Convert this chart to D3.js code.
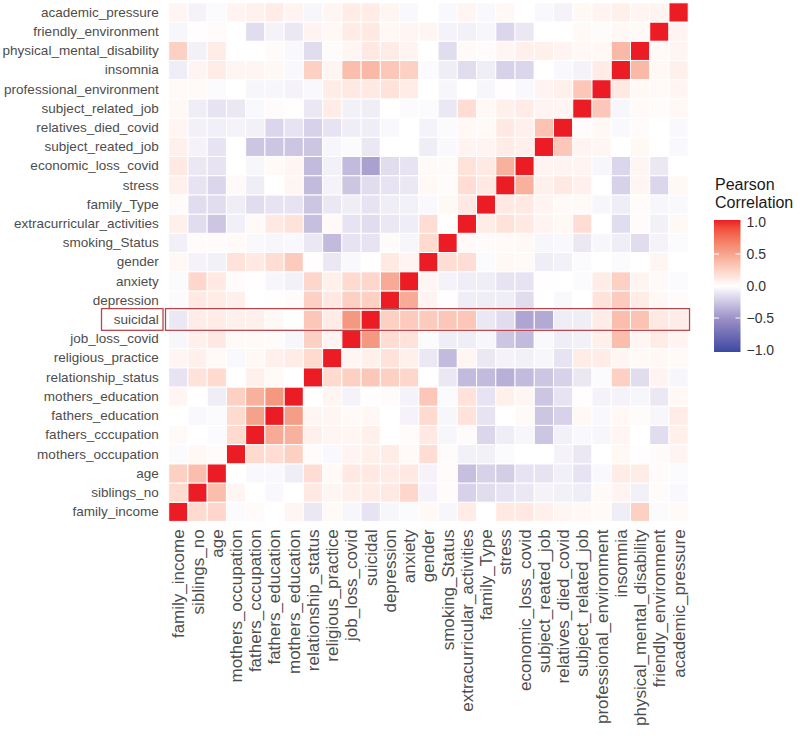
<!DOCTYPE html>
<html><head><meta charset="utf-8">
<script src="https://cdn.jsdelivr.net/npm/d3@7"></script>
<style>body{margin:0;background:#fff} svg{display:block}</style>
</head><body>
<svg id="chart" width="800" height="740"></svg>
<script>
const variables = ["family_income","siblings_no","age","mothers_occupation","fathers_cccupation","fathers_education","mothers_education","relationship_status","religious_practice","job_loss_covid","suicidal","depression","anxiety","gender","smoking_Status","extracurricular_activities","family_Type","stress","economic_loss_covid","subject_reated_job","relatives_died_covid","subject_related_job","professional_environment","insomnia","physical_mental_disability","friendly_environment","academic_pressure"];

// one row per variable, in the same order as `variables`
const corrRows = [
[1,0.2,0.22,-0.02,0.02,0,0.05,-0.1,0.03,-0.04,-0.12,-0.04,-0.02,0.04,-0.04,0.1,0,0.12,0.12,0.08,0.05,0.04,0.03,-0.08,0.25,-0.02,0.03],
[0.2,1,0.35,0.05,0,-0.03,0,0.12,0.05,0.08,0.1,0.12,0.22,-0.05,0.02,-0.2,-0.15,-0.12,-0.1,-0.05,-0.06,-0.08,0.03,0.06,-0.06,0.02,-0.03],
[0.25,0.35,1,0,-0.03,-0.03,-0.08,0.18,0.03,0.12,0.12,0.1,0.12,-0.05,0.02,-0.28,-0.2,-0.22,-0.12,-0.12,-0.07,-0.12,-0.03,0.1,0.1,0.02,-0.02],
[-0.02,0.04,0.02,1,0.2,0.18,0.25,0.02,-0.03,0.06,0.08,0.1,0.03,0.18,0.02,-0.06,-0.06,-0.02,0,0,-0.05,-0.1,0,0.04,0.01,0.02,0.06],
[0.03,0,-0.02,0.2,1,0.45,0.42,0.08,0.05,0.05,0.08,0,0.02,0.12,-0.04,0.02,-0.18,-0.08,-0.04,-0.25,-0.06,-0.03,-0.04,0.05,0,-0.15,0.08],
[0,-0.03,-0.02,0.2,0.5,1,0.52,0.05,0.05,0.03,0.04,0,-0.05,0.2,-0.04,0.15,-0.12,0,0.03,-0.25,-0.2,0.04,-0.03,0.04,0.02,-0.04,0.1],
[0.05,0,-0.08,0.25,0.42,0.55,1,0,0.05,-0.05,0.01,0.02,-0.05,0.3,-0.02,0.15,-0.12,0.08,0.05,-0.25,-0.12,0.01,-0.05,-0.05,-0.04,-0.1,0.04],
[-0.12,0.15,0.2,0,0.08,0.03,0,1,0.2,0.25,0.3,0.25,0.22,0,-0.1,-0.3,-0.3,-0.35,-0.3,-0.25,-0.2,-0.1,-0.02,0.25,-0.15,0.06,-0.04],
[0.05,0.08,0.03,-0.03,0.04,0.08,0.1,0.2,1,0.05,0.08,0.15,0.08,-0.1,-0.3,0.05,-0.1,-0.05,-0.06,-0.04,-0.12,0.1,0.1,0.05,0.03,0.04,0.03],
[-0.04,0.08,0.12,0.03,0.03,0.02,-0.04,0.25,0.06,1,0.55,0.18,0.15,-0.02,-0.08,-0.08,-0.04,-0.25,-0.3,-0.03,-0.08,-0.06,0.08,0.35,0.05,0.1,0.06],
[-0.1,0.1,0.1,0.08,0.08,0.04,0,0.3,0.1,0.55,1,0.25,0.28,0.28,0.3,0.3,-0.1,-0.15,-0.4,-0.38,-0.08,-0.08,0.1,0.35,0.32,0.12,0.1],
[-0.02,0.12,0.1,0.08,0,0.01,0.02,0.25,0.12,0.25,0.25,1,0.45,0.06,0.01,-0.08,-0.08,-0.08,-0.15,0,-0.03,0,0.15,0.28,0.1,0.04,0.02],
[-0.02,0.22,0.12,0.02,0.01,-0.04,-0.06,0.22,0.08,0.2,0.22,0.45,1,0.05,-0.05,-0.08,-0.08,-0.12,-0.12,0.01,0,-0.02,0.1,0.25,0.06,0.03,-0.02],
[0.04,-0.05,-0.06,0.15,0.12,0.18,0.28,0.01,-0.1,-0.03,0,0.12,0.06,1,0.18,0.18,-0.02,0.04,0.03,-0.08,-0.06,-0.02,0,-0.02,0,0.05,0],
[-0.07,0.02,0.02,0.03,-0.03,-0.04,-0.03,-0.1,-0.3,-0.12,-0.12,0.02,-0.04,0.2,1,0.03,0.02,0.03,0.04,-0.04,-0.03,-0.1,-0.04,-0.08,-0.15,-0.05,-0.02],
[0.08,-0.15,-0.25,-0.07,0.03,0.12,0.15,-0.28,0.03,-0.12,-0.15,-0.1,-0.08,0.18,0.01,1,0.1,0.15,0.12,0.06,0.04,0.18,0,-0.15,0.02,-0.06,0.04],
[0.02,-0.15,-0.15,-0.08,-0.15,-0.12,-0.12,-0.25,-0.1,-0.08,-0.12,-0.08,-0.06,-0.03,0.04,0.12,1,0.12,0.12,0.06,0.03,0.03,-0.04,-0.08,0.02,-0.04,-0.03],
[0.08,-0.12,-0.18,0.03,-0.08,0,0.05,-0.3,-0.05,-0.25,-0.15,-0.12,-0.1,0.04,0.02,0.18,0.12,1,0.42,0.08,0.12,0.08,0,-0.2,0.05,-0.18,0.04],
[0.12,-0.1,-0.12,0,-0.04,0.03,0.05,-0.3,-0.06,-0.3,-0.42,-0.15,-0.12,0.03,0.02,0.15,0.12,0.42,1,0.06,0.06,0.06,-0.04,-0.18,0.05,-0.1,0],
[0.08,-0.05,-0.12,0,-0.25,-0.25,-0.25,-0.25,-0.04,-0.02,-0.1,0,0,-0.08,-0.03,0.06,0.06,0.1,0.08,1,0.3,0.06,0.05,0,0.04,0,-0.03],
[0.05,-0.06,-0.07,-0.05,-0.06,-0.18,-0.12,-0.2,-0.12,-0.08,-0.08,-0.03,0,-0.05,-0.02,0.04,0.03,0.12,0.08,0.32,1,0.02,0.04,-0.03,0.02,0,-0.03],
[0.04,-0.08,-0.12,-0.1,-0.03,0.02,0.01,-0.1,0.1,-0.06,-0.08,0,-0.02,-0.02,-0.1,0.18,0.04,0.08,0.1,0.06,0.05,1,0.3,-0.04,0.03,0.02,0.04],
[0.03,0.03,-0.02,0,-0.04,-0.04,-0.05,-0.03,0.1,0.12,0.12,0.15,0.1,0,-0.04,0,-0.04,0.01,-0.03,0.06,0.08,0.3,1,0.12,0.04,0.03,0.05],
[-0.08,0.06,0.1,0.05,0.05,0.04,-0.03,0.25,0.05,0.35,0.38,0.3,0.25,-0.02,-0.08,-0.15,-0.08,-0.2,-0.18,0,-0.03,-0.05,0.1,1,0.38,0.04,0.08],
[0.25,-0.06,0.1,0,0,0.02,-0.03,-0.15,0.02,0.05,0.12,0.1,0.06,0,-0.15,0.03,0.02,0.05,0.08,0.08,0.06,0.04,0.04,0.38,1,0.03,0.05],
[-0.04,0.01,0.02,0,-0.15,-0.05,-0.1,0.06,0.04,0.1,0.12,0.04,0.05,0.05,-0.05,-0.06,-0.04,-0.18,-0.1,0,0,0.03,0.02,0.04,0.03,1,0.06],
[0.05,-0.05,-0.02,0.06,0.07,0.1,0.06,-0.04,0.05,0.1,0.1,0.05,-0.03,0,-0.03,0.05,-0.03,0.04,0,-0.03,-0.05,0.04,0.06,0.08,0.05,0.06,1]
];

const legendTicks = [1.0, 0.5, 0.0, -0.5, -1.0];
const legendTitle = ["Pearson", "Correlation"];
const highlightVar = "suicidal";

const svg = d3.select("#chart");
const FONT = "'Liberation Sans', Arial, sans-serif";

const x = d3.scaleBand().domain(variables).range([168.7, 688.2]);
const y = d3.scaleBand().domain(variables.slice().reverse()).range([2.8, 521.4]);

const color = d3.scaleLinear()
  .domain([-1, -0.5, 0, 0.5, 1])
  .range(["#3B49A1", "#9B90C7", "#ffffff", "#F5A28B", "#EC1C24"])
  .interpolate(d3.interpolateLab)
  .clamp(true);

const cells = [];
corrRows.forEach((row, i) => row.forEach((v, j) => cells.push({row: variables[i], col: variables[j], v})));

svg.append("g").selectAll("rect").data(cells).join("rect")
  .attr("x", d => x(d.col))
  .attr("y", d => y(d.row))
  .attr("width", x.bandwidth())
  .attr("height", y.bandwidth())
  .attr("fill", d => color(d.v))
  .attr("stroke", "#ffffff")
  .attr("stroke-width", 1);

// y axis
const yAxis = svg.append("g").attr("transform", "translate(168.7,0)")
  .call(d3.axisLeft(y).tickSize(0).tickPadding(10));
yAxis.select(".domain").remove();
yAxis.selectAll("text").attr("font-family", FONT).attr("font-size", 13.5).attr("fill", "#4D4D4D");

// x axis
const xAxis = svg.append("g").attr("transform", "translate(0,521.4)")
  .call(d3.axisBottom(x).tickSize(0));
xAxis.select(".domain").remove();
xAxis.selectAll("text")
  .attr("transform", "rotate(-90)")
  .attr("x", -8).attr("y", 0).attr("dy", "0.35em")
  .attr("text-anchor", "end")
  .attr("font-family", FONT).attr("font-size", 17).attr("fill", "#4D4D4D");

// highlight boxes
const hy = y(highlightVar);
svg.append("rect").attr("x", 101.5).attr("y", hy - 1.5).attr("width", 61.5).attr("height", y.bandwidth() + 2.5)
  .attr("fill", "none").attr("stroke", "#B8474C").attr("stroke-width", 1.3);
svg.append("rect").attr("x", 165.5).attr("y", hy - 1.5).attr("width", 524).attr("height", y.bandwidth() + 2.5)
  .attr("fill", "none").attr("stroke", "#B8474C").attr("stroke-width", 1.3);

// legend
const ls = d3.scaleLinear().domain([-1, 1]).range([350, 222]);
const defs = svg.append("defs");
const grad = defs.append("linearGradient").attr("id", "cg").attr("x1", 0).attr("y1", 1).attr("x2", 0).attr("y2", 0);
d3.range(0, 1.0001, 0.05).forEach(t => grad.append("stop").attr("offset", t).attr("stop-color", color(-1 + 2 * t)));
const bx = 714, bw = 26.5;
svg.append("rect").attr("x", bx).attr("y", ls(1) - 2).attr("width", bw).attr("height", ls(-1) - ls(1) + 4).attr("fill", "url(#cg)");
legendTicks.forEach(t => {
  if (Math.abs(t) < 1) {
    svg.append("line").attr("x1", bx).attr("x2", bx + 5).attr("y1", ls(t)).attr("y2", ls(t)).attr("stroke", "#fff").attr("stroke-width", 1);
    svg.append("line").attr("x1", bx + bw - 5).attr("x2", bx + bw).attr("y1", ls(t)).attr("y2", ls(t)).attr("stroke", "#fff").attr("stroke-width", 1);
  }
  svg.append("text").attr("x", bx + bw + 6).attr("y", ls(t)).attr("dy", "0.35em")
    .attr("font-family", FONT).attr("font-size", 14).attr("fill", "#333")
    .text(d3.format(".1f")(t));
});
legendTitle.forEach((t, k) => {
  svg.append("text").attr("x", 715).attr("y", 190 + k * 18)
    .attr("font-family", FONT).attr("font-size", 16).attr("fill", "#1a1a1a").text(t);
});
</script>
</body></html>
